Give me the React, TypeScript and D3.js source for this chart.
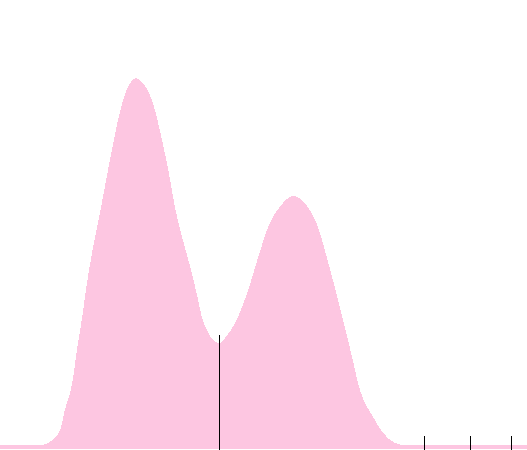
import React from "react";
import * as d3 from "d3";

const xValues = [0, 0.5, 0.76, 0.87, 0.99, 1.14, 1.23, 1.37, 1.46, 1.56, 1.65, 1.75, 1.9, 2.05, 2.24, 2.33, 2.47, 2.58, 2.71, 2.9, 3.07, 3.19, 3.32, 3.47, 3.61, 3.76, 3.83, 3.93, 4.04, 4.16, 4.27, 4.46, 4.71, 4.9, 5.12, 5.31, 5.56, 5.84, 6.02, 6.2, 6.39, 6.51, 6.68, 6.83, 7.08, 7.27, 7.5, 7.69, 8.5, 9.3, 10];
const densities = [0.01, 0.01, 0.01, 0.0125, 0.0225, 0.0475, 0.0975, 0.165, 0.2475, 0.33, 0.415, 0.4925, 0.5925, 0.6975, 0.8225, 0.87, 0.915, 0.9275, 0.915, 0.865, 0.775, 0.7, 0.605, 0.5225, 0.455, 0.3725, 0.33, 0.2975, 0.2725, 0.265, 0.2775, 0.315, 0.3975, 0.48, 0.565, 0.605, 0.6325, 0.605, 0.56, 0.48, 0.385, 0.3225, 0.23, 0.1475, 0.08, 0.04, 0.015, 0.01, 0.01, 0.01, 0.01];
const medianValue = 4.16;
const medianTop = 0.285;
const rugValues = [8.05, 8.92, 9.7];

const W = 527;
const H = 450;

export default function App() {
  const x = d3.scaleLinear().domain([0, 10]).range([0, W]);
  const y = d3.scaleLinear().domain([0, 1]).range([449, 49]);
  const pts = xValues.map((v, i) => [v, densities[i]] as [number, number]);
  const area = d3
    .area<[number, number]>()
    .x((d) => x(d[0]))
    .y0(y(0))
    .y1((d) => y(d[1]))
    .curve(d3.curveMonotoneX);
  return (
    <svg
      width={W}
      height={H}
      style={{ position: "fixed", left: 0, top: 0, display: "block" }}
    >
      <rect x={0} y={0} width={W} height={H} fill="#ffffff" />
      <path d={area(pts) || ""} fill="#fdc6e1" shapeRendering="crispEdges" />
      <line
        x1={Math.round(x(medianValue)) + 0.5}
        x2={Math.round(x(medianValue)) + 0.5}
        y1={y(medianTop)}
        y2={H}
        stroke="#000"
        strokeWidth={1}
      />
      {rugValues.map((v, i) => (
        <line
          key={i}
          x1={Math.round(x(v)) + 0.5}
          x2={Math.round(x(v)) + 0.5}
          y1={H - 14}
          y2={H}
          stroke="#000"
          strokeWidth={1}
        />
      ))}
    </svg>
  );
}
